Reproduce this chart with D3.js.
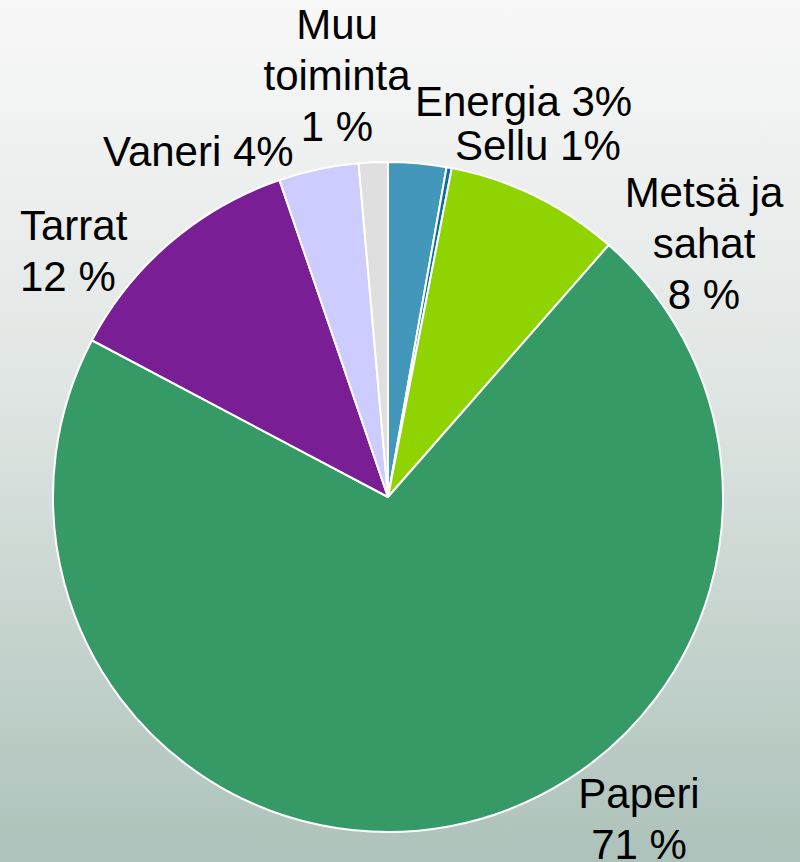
<!DOCTYPE html>
<html>
<head>
<meta charset="utf-8">
<script src="https://cdn.jsdelivr.net/npm/d3@7"></script>
<style>
  html, body { margin: 0; padding: 0; }
  svg { display: block; }
  text { font-family: "Liberation Sans", Arial, sans-serif; font-size: 42px; fill: #000; }
</style>
</head>
<body>
<svg id="chart"></svg>
<script>
// Osuudet (%), myötäpäivään ylhäältä alkaen
const sectors = ["Energia", "Sellu", "Metsä ja sahat", "Paperi", "Tarrat", "Vaneri", "Muu toiminta"];
const shares = [2.8, 0.25, 8.4, 71.3, 12.0, 3.85, 1.4];
const labels = [
  ["Energia 3%"],
  ["Sellu 1%"],
  ["Metsä ja", "sahat", "8 %"],
  ["Paperi", "71 %"],
  ["Tarrat", "12 %"],
  ["Vaneri 4%"],
  ["Muu", "toiminta", "1 %"]
];

const colors = ["#4397ba", "#0a6f9e", "#8fd400", "#359a66", "#7a1e96", "#ccccff", "#dfdfdf"];

// tekstien paikat (x, ensimmäinen perusviiva, ankkuri)
const labelPos = [
  { x: 415, y: 116, anchor: "start" },
  { x: 455, y: 160, anchor: "start" },
  { x: 704, y: 207, anchor: "middle" },
  { x: 639, y: 808, anchor: "middle" },
  { x: 20, y: 240, anchor: "start" },
  { x: 103, y: 166, anchor: "start" },
  { x: 337, y: 39, anchor: "middle" }
];

const width = 800;
const height = 862;
const cx = 388, cy = 497, radius = 335;
const lineHeight = 51;

const svg = d3.select("#chart")
  .attr("width", width)
  .attr("height", height);

const grad = svg.append("defs").append("linearGradient")
  .attr("id", "bg")
  .attr("x1", 0).attr("y1", 0).attr("x2", 0).attr("y2", 1);
grad.append("stop").attr("offset", "0%").attr("stop-color", "#f8f8f8");
grad.append("stop").attr("offset", "45%").attr("stop-color", "#e0e6e3");
grad.append("stop").attr("offset", "100%").attr("stop-color", "#adc2ba");

svg.append("rect")
  .attr("width", width)
  .attr("height", height)
  .attr("fill", "url(#bg)");

const pie = d3.pie().sort(null).value(d => d);
const arc = d3.arc().innerRadius(0).outerRadius(radius);

const g = svg.append("g").attr("transform", `translate(${cx},${cy})`);

g.selectAll("path")
  .data(pie(shares))
  .enter()
  .append("path")
  .attr("d", arc)
  .attr("fill", (d, i) => colors[i])
  .attr("stroke", "#fff")
  .attr("stroke-width", 2)
  .attr("stroke-linejoin", "round");

// Tekstit
svg.selectAll(".label")
  .data(labels)
  .enter()
  .append("text")
  .attr("class", "label")
  .attr("text-anchor", (d, i) => labelPos[i].anchor)
  .each(function (d, i) {
    d3.select(this).selectAll("tspan")
      .data(d)
      .enter()
      .append("tspan")
      .attr("x", labelPos[i].x)
      .attr("y", (t, j) => labelPos[i].y + j * lineHeight)
      .text(t => t);
  });
</script>
</body>
</html>
